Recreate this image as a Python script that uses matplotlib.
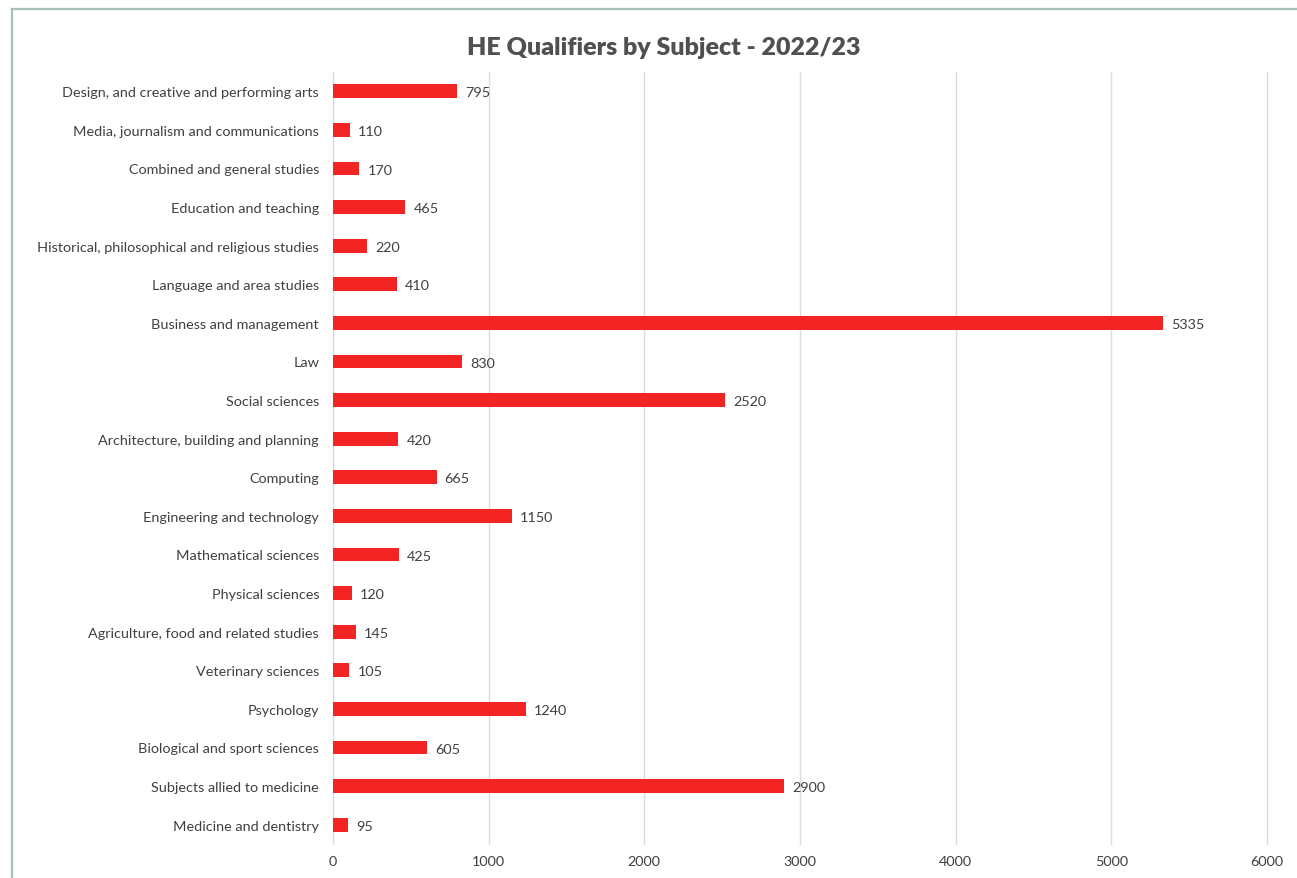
import matplotlib
matplotlib.use("Agg")
import matplotlib.pyplot as plt
from matplotlib.lines import Line2D

subjects = [
    "Design, and creative and performing arts",
    "Media, journalism and communications",
    "Combined and general studies",
    "Education and teaching",
    "Historical, philosophical and religious studies",
    "Language and area studies",
    "Business and management",
    "Law",
    "Social sciences",
    "Architecture, building and planning",
    "Computing",
    "Engineering and technology",
    "Mathematical sciences",
    "Physical sciences",
    "Agriculture, food and related studies",
    "Veterinary sciences",
    "Psychology",
    "Biological and sport sciences",
    "Subjects allied to medicine",
    "Medicine and dentistry",
]
qualifiers = [795, 110, 170, 465, 220, 410, 5335, 830, 2520, 420,
              665, 1150, 425, 120, 145, 105, 1240, 605, 2900, 95]
x_ticks = [0, 1000, 2000, 3000, 4000, 5000, 6000]

plt.rcParams["font.family"] = ["Lato", "DejaVu Sans"]
text_color = "#404040"
bar_color = "#f22424"

fig = plt.figure(figsize=(12.97, 8.79), dpi=100)
ax = fig.add_axes([333 / 1297, 1 - 845 / 879, 934 / 1297, (845 - 73) / 879])

pos = list(range(len(subjects)))
ax.barh(pos, qualifiers, height=0.36, color=bar_color, zorder=3)
for p, v in zip(pos, qualifiers):
    ax.text(v + 52, p + 0.03, f"{v}", va="center", ha="left",
            fontsize=10.4, color=text_color)

ax.set_ylim(len(subjects) - 0.5, -0.5)
ax.set_xlim(0, 6000)
ax.set_yticks(pos)
ax.set_yticklabels(subjects, fontsize=10.4, color=text_color)
ax.set_xticks(x_ticks)
ax.set_xticklabels([str(t) for t in x_ticks], fontsize=10.4, color=text_color)
ax.tick_params(axis="both", length=0)
ax.tick_params(axis="y", pad=10)
ax.tick_params(axis="x", pad=8)
ax.grid(axis="x", color="#dcdcdc", linewidth=1, zorder=0)
for gl in ax.get_xgridlines():
    gl.set_clip_on(False)
for s in ax.spines.values():
    s.set_visible(False)

fig.text(664 / 1297, 1 - 48 / 879, "HE Qualifiers by Subject - 2022/23",
         ha="center", va="center", fontsize=18, fontweight="heavy",
         color="#505050")

# frame lines along the top and left edges
fig.add_artist(Line2D([12 / 1297, 1.0], [1 - 10 / 879, 1 - 10 / 879],
                      transform=fig.transFigure, color="#a8bfbb", linewidth=1.6))
fig.add_artist(Line2D([12 / 1297, 12 / 1297], [0.0, 1 - 10 / 879],
                      transform=fig.transFigure, color="#a8bfbb", linewidth=1.6))

fig.savefig("out.png", dpi=100, facecolor="white")
